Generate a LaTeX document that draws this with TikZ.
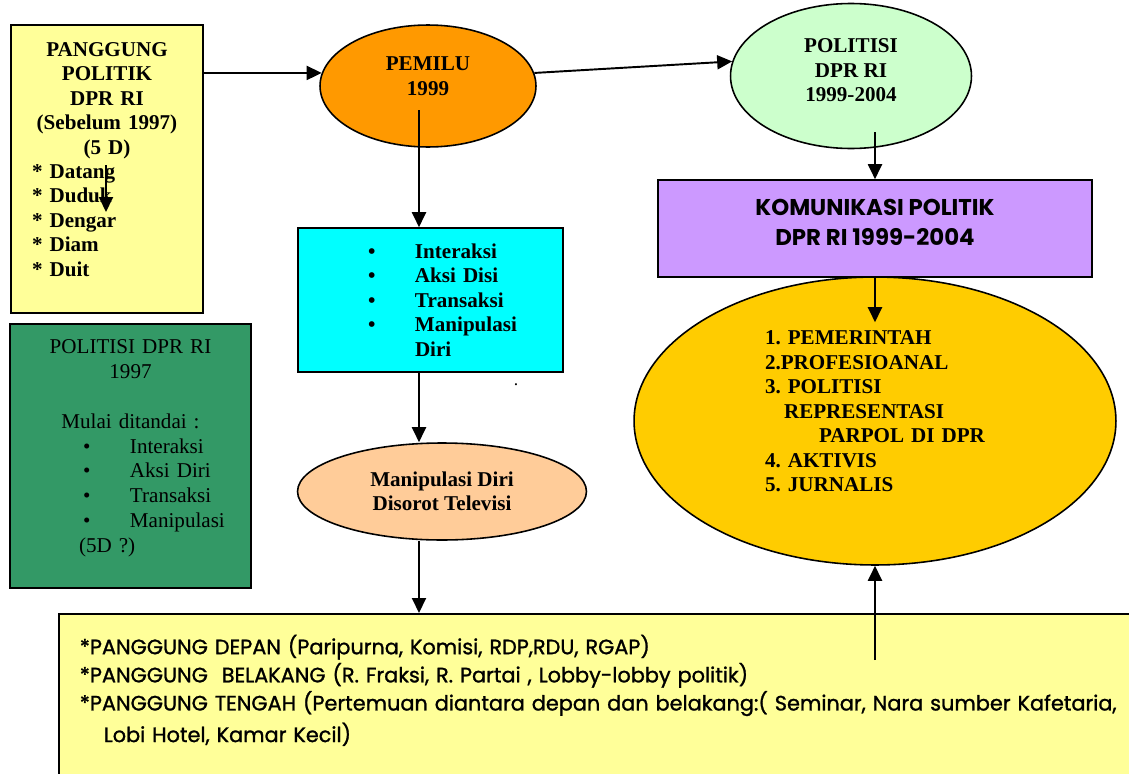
\documentclass[tikz,border=0pt]{standalone}
\usepackage{fontspec}
\setmainfont{Liberation Serif}
\newfontfamily\comicfont[FakeBold=1.2]{Poppins}
\newfontfamily\comicboldfont{Poppins}
\usetikzlibrary{shapes.geometric,arrows.meta,calc}
\frenchspacing

\definecolor{stageyellow}{HTML}{FFFF99}
\definecolor{seagreen}{HTML}{339966}
\definecolor{pemiluorange}{HTML}{FF9900}
\definecolor{mintgreen}{HTML}{CCFFCC}
\definecolor{lilac}{HTML}{CC99FF}
\definecolor{gold}{HTML}{FFCC00}
\definecolor{aqua}{HTML}{00FFFF}
\definecolor{peach}{HTML}{FFCC99}

\tikzset{
  box/.style={draw, line width=0.9pt, inner sep=0pt, align=left},
  oval/.style={ellipse, draw, line width=0.9pt, inner sep=0pt, align=center},
  serif/.style={font=\fontsize{12}{13.9}\selectfont\bfseries},
  plainserif/.style={font=\fontsize{12}{14.2}\selectfont},
  comic/.style={font=\comicfont\fontsize{11.85}{16}\selectfont},
  comicbold/.style={font=\comicboldfont\bfseries\fontsize{13}{17}\selectfont}
}
\newcommand{\itm}{\makebox[0.94cm][l]{\textbullet}}

\begin{document}
\begin{tikzpicture}[x=0.02cm, y=-0.02cm, line width=1.1pt, >={Triangle[length=0.3cm,width=0.28cm]}]
\useasboundingbox (0,0) rectangle (1129,774);
\clip (0,0) rectangle (1129,774);
\node[box, serif, fill=stageyellow, text width=3.84cm, minimum height=5.76cm] (stage) at (107,169) {\centering PANGGUNG\\ POLITIK\\ DPR RI\\ (Sebelum 1997)\\ (5 D)\par\raggedright\leftskip=0.42cm * Datang\\{}* Duduk\\{}* Dengar\\{}* Diam\\{}* Duit\\[-0.1cm]\mbox{}\par};
\node[box, plainserif, fill=seagreen, text width=4.82cm, minimum height=5.28cm] (old) at (130.5,456) {\centering POLITISI DPR RI\\ 1997\\[\baselineskip] Mulai ditandai :\par\raggedright\leftskip=1.46cm \itm Interaksi\\ \itm Aksi Diri\\ \itm Transaksi\\ \itm Manipulasi\par\leftskip=1.38cm (5D ?)\\[-0.1cm]\mbox{}\par};
\node[oval, serif, fill=pemiluorange, minimum width=4.32cm, minimum height=2.44cm] (pemilu) at (428,86) {PEMILU\\ 1999\\[-0.1cm]\mbox{}};
\node[oval, serif, fill=mintgreen, minimum width=4.82cm, minimum height=2.9cm] (politisi) at (851,76) {POLITISI\\ DPR RI\\ 1999-2004\\[-0.25cm]\mbox{}};
\node[box, comicbold, fill=lilac, align=center, minimum width=8.68cm, minimum height=1.94cm] (comm) at (875,228.5) {KOMUNIKASI POLITIK\\ DPR RI 1999-2004\\[-0.35cm]\mbox{}};
\node[oval, serif, fill=gold, align=left, text width=4.4cm, minimum width=9.64cm, minimum height=5.76cm] (roles) at (875,421) {1. PEMERINTAH\\ 2.PROFESIOANAL\\ 3. POLITISI\\ \hspace*{0.38cm}REPRESENTASI\\ \hspace*{1.08cm}PARPOL DI DPR\\ 4. AKTIVIS\\ 5. JURNALIS\\[-0.1cm]\mbox{}};
\node[box, serif, fill=aqua, text width=5.3cm, minimum height=2.88cm] (acts) at (430.5,300) {\leftskip=1.4cm \itm Interaksi\\ \itm Aksi Disi\\ \itm Transaksi\\ \itm Manipulasi\\ \hspace*{0.94cm}Diri\par};
\node (dot) at (516,385) {.};
\node[oval, serif, fill=peach, minimum width=5.78cm, minimum height=1.94cm] (tv) at (442,491.5) {Manipulasi Diri\\ Disorot Televisi};
\node[box, comic, fill=stageyellow, anchor=north west, inner xsep=0.42cm, inner ysep=0.42cm, text width=23cm] (stages) at (58,613) {*PANGGUNG DEPAN (Paripurna, Komisi, RDP,RDU, RGAP)\\{}*PANGGUNG\ \ BELAKANG (R. Fraksi, R. Partai , Lobby-lobby politik)\\{}*PANGGUNG TENGAH (Pertemuan diantara depan dan belakang:( Seminar, Nara sumber Kafetaria,\\[0.07cm] \hspace*{0.48cm}Lobi Hotel, Kamar Kecil)\\[0.2cm]\mbox{}};
\coordinate (col) at (419,0);
\coordinate (dd) at (106,165);
\draw[->] (stage.east |- pemilu.173) -- (pemilu.173);
\draw[->] (pemilu.7) -- (politisi.173);
\draw[->] ($(politisi.south -| comm.north)+(0,-17)$) -- (comm.north);
\draw[->] (comm.south) -- ($(roles.north)+(0,46)$);
\draw[->] ($(stages.north -| roles.south)+(0,47)$) -- (roles.south);
\draw[->] ($(pemilu.center -| col)+(0,24)$) -- (acts.north -| col);
\draw[->] (acts.south -| col) -- (tv.north -| col);
\draw[->] (tv.south -| col) -- (stages.north -| col);
\draw[->] (dd) -- ++(0,47);
\end{tikzpicture}
\end{document}
